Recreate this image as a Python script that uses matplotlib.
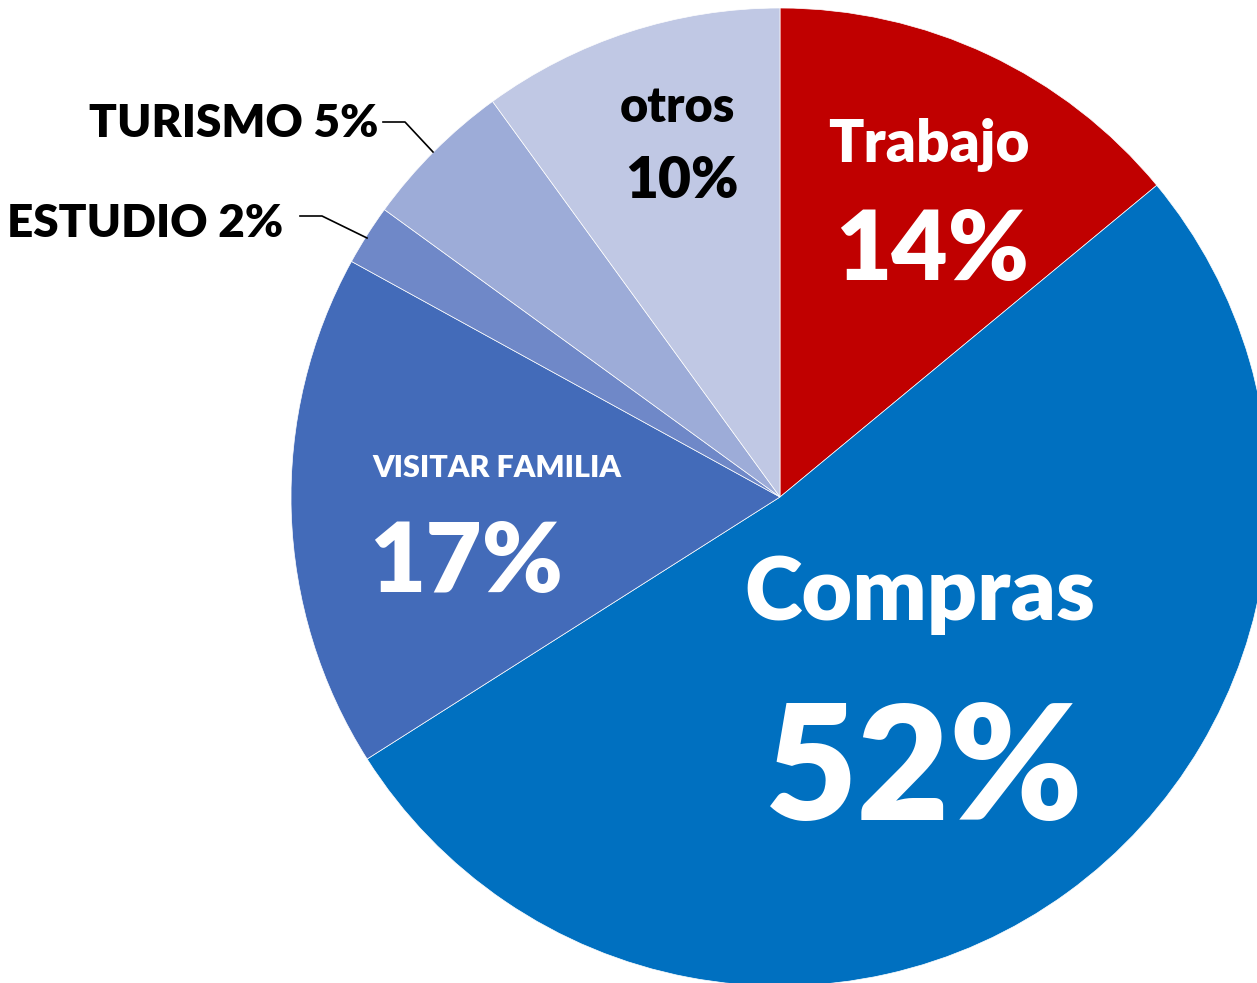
import matplotlib

matplotlib.use("Agg")
import matplotlib.pyplot as plt

plt.rcParams["font.family"] = ["Lato", "DejaVu Sans"]

# data
categories = ["Trabajo", "Compras", "VISITAR FAMILIA", "ESTUDIO", "TURISMO", "otros"]
shares = [14, 52, 17, 2, 5, 10]
colors = ["#C00000", "#0070C0", "#436BB9", "#6F88C8", "#9DACD8", "#C0C8E4"]

W, H = 1257, 983          # canvas in pixels
CX, CY, R = 780, 497, 489  # pie centre / radius, pixel coords (y down)


def px(x, y):
    """pixel coords (y down) -> data coords (y up)"""
    return x, H - y


fig = plt.figure(figsize=(W / 100, H / 100), dpi=100)
ax = fig.add_axes([0, 0, 1, 1])
ax.pie(shares, colors=colors, startangle=90, counterclock=False,
       center=px(CX, CY), radius=R,
       wedgeprops={"edgecolor": "white", "linewidth": 0.5})
ax.set_xlim(0, W)
ax.set_ylim(0, H)
ax.set_aspect("equal")
ax.axis("off")

pct = [f"{v}%" for v in shares]


def label(x, y, s, size, color, ha="center"):
    ax.text(*px(x, y), s, fontsize=size, fontweight=800, color=color,
            ha=ha, va="baseline")


# inside labels: (name, value) stacked
label(929, 162, categories[0], 42, "white")
label(932, 280, pct[0], 70, "white")
label(920, 620, categories[1], 63, "white")
label(924, 820, pct[1], 115, "white")
label(497, 477, categories[2], 22, "white")
label(466, 592, pct[2], 70, "white")
label(677, 122, categories[5], 35, "black")
label(682, 198, pct[5], 41, "black")

# outside labels with leader lines
label(378, 137, f"{categories[4]} {pct[4]}", 33, "black", ha="right")
label(283, 237, f"{categories[3]} {pct[3]}", 33, "black", ha="right")
for pts in ([(383, 122), (405, 122), (433, 152)],
            [(300, 216), (322, 216), (367, 238)]):
    xs, ys = zip(*(px(x, y) for x, y in pts))
    ax.plot(xs, ys, color="black", lw=1.2)

fig.savefig("out.png", dpi=100)
